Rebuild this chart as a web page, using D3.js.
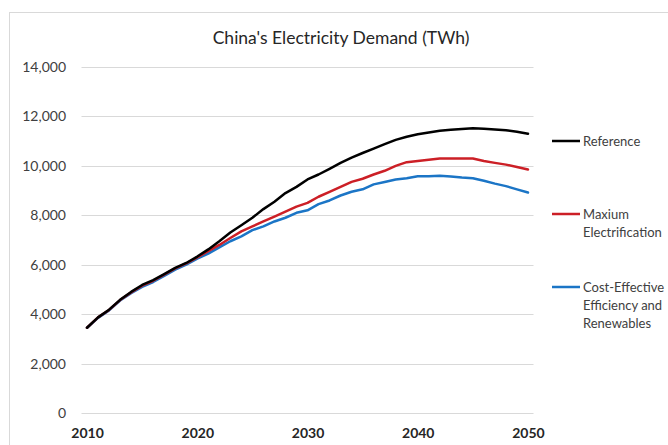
<!DOCTYPE html>
<html>
<head>
<meta charset="utf-8">
<script src="https://cdn.jsdelivr.net/npm/d3@7"></script>
<style>
  html, body { margin: 0; padding: 0; background: #fff; }
  svg { display: block; font-family: Lato, "Open Sans", sans-serif; }
</style>
</head>
<body>
<svg id="chart" width="668" height="445"></svg>
<script>
const years = d3.range(2010, 2051);
const referenceValues = [3450, 3870, 4180, 4580, 4900, 5180, 5380, 5620, 5870, 6070,
  6330, 6620, 6950, 7300, 7600, 7900, 8250, 8550, 8900, 9150,
  9450, 9650, 9880, 10120, 10330, 10520, 10700, 10880, 11050, 11180,
  11280, 11350, 11420, 11460, 11490, 11520, 11500, 11470, 11440, 11380, 11300];
const maxElectrificationValues = [3450, 3870, 4170, 4570, 4880, 5150, 5350, 5600, 5850, 6050,
  6300, 6550, 6800, 7080, 7350, 7550, 7750, 7950, 8150, 8350,
  8500, 8750, 8950, 9150, 9350, 9480, 9650, 9800, 10000, 10150,
  10200, 10250, 10300, 10300, 10300, 10300, 10200, 10120, 10050, 9950, 9850];
const costEffectiveValues = [3450, 3850, 4150, 4550, 4850, 5100, 5300, 5550, 5800, 6000,
  6250, 6450, 6700, 6950, 7150, 7400, 7550, 7750, 7900, 8100,
  8200, 8450, 8600, 8800, 8950, 9050, 9250, 9350, 9450, 9500,
  9580, 9580, 9600, 9570, 9530, 9500, 9400, 9280, 9180, 9050, 8920];
const xTickLabels = [2010, 2020, 2030, 2040, 2050];
const yTickValues = [0, 2000, 4000, 6000, 8000, 10000, 12000, 14000];
const seriesNames = ["Reference", "Maxium\nElectrification", "Cost-Effective\nEfficiency and\nRenewables"];
const seriesColors = ["#000000", "#cc1f26", "#1b75c6"];
const title = "China's Electricity Demand (TWh)";

const series = [referenceValues, maxElectrificationValues, costEffectiveValues].map((vals, i) => ({
  name: seriesNames[i], color: seriesColors[i],
  points: years.map((y, j) => ({ year: y, value: vals[j] }))
}));

const svg = d3.select("#chart");

// chart border
svg.append("rect").attr("x", 9.5).attr("y", 12.5).attr("width", 700).attr("height", 500)
  .attr("fill", "none").attr("stroke", "#d9d9d9");

const x = d3.scalePoint().domain(years).range([81.5, 533.5]).padding(0.5);
const y = d3.scaleLinear().domain([0, 14000]).range([413, 67]);

// gridlines
svg.append("g").selectAll("line").data(yTickValues).join("line")
  .attr("x1", 81.5).attr("x2", 533.5)
  .attr("y1", d => Math.round(y(d)) + 0.5).attr("y2", d => Math.round(y(d)) + 0.5)
  .attr("stroke", "#d9d9d9").attr("stroke-width", 1);

// y axis
const yAxis = d3.axisLeft(y).tickValues(yTickValues).tickFormat(d3.format(",")).tickSize(0).tickPadding(0);
const gy = svg.append("g").attr("transform", "translate(66,0)").call(yAxis);
gy.select(".domain").remove();
gy.selectAll("text").attr("font-size", 14).attr("fill", "#404040").attr("font-family", "Lato, sans-serif");

// x axis
const xAxis = d3.axisBottom(x).tickValues(xTickLabels).tickSize(0).tickPadding(0);
const gx = svg.append("g").attr("transform", "translate(0,428)").call(xAxis);
gx.select(".domain").remove();
gx.selectAll("text").attr("font-size", 14).attr("font-weight", "bold").attr("fill", "#262626")
  .attr("font-family", "Lato, sans-serif");

// lines
const line = d3.line().x(d => x(d.year)).y(d => y(d.value));
svg.append("g").selectAll("path").data(series.slice().reverse()).join("path")
  .attr("d", d => line(d.points))
  .attr("fill", "none").attr("stroke", d => d.color).attr("stroke-width", 2.5)
  .attr("stroke-linejoin", "round").attr("stroke-linecap", "round");

// title
svg.append("text").attr("x", 341).attr("y", 44).attr("text-anchor", "middle")
  .attr("font-size", 17.5).attr("fill", "#262626").text(title);

// legend
const legendY = [141, 214, 287];
const lg = svg.append("g");
series.forEach((s, i) => {
  lg.append("line").attr("x1", 552).attr("x2", 580).attr("y1", legendY[i]).attr("y2", legendY[i])
    .attr("stroke", s.color).attr("stroke-width", 2.5);
  const t = lg.append("text").attr("x", 583).attr("y", legendY[i] + 4.5)
    .attr("font-size", 13).attr("fill", "#404040");
  s.name.split("\n").forEach((ln, k) => {
    t.append("tspan").attr("x", 583).attr("dy", k === 0 ? 0 : 18).text(ln);
  });
});
</script>
</body>
</html>
